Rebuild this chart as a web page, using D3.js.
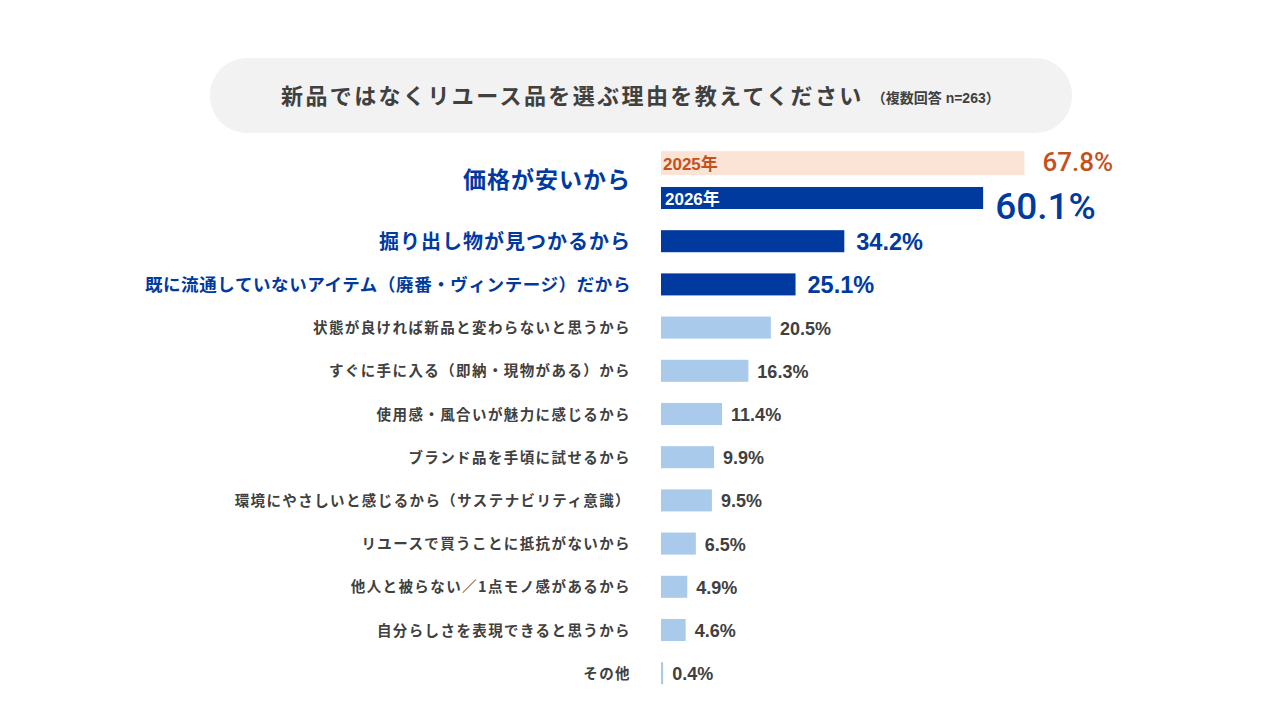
<!DOCTYPE html>
<html><head><meta charset="utf-8">
<script src="https://cdn.jsdelivr.net/npm/d3@7"></script>
<style>
html,body{margin:0;padding:0;background:#fff;}
svg{display:block;font-family:"Noto Sans CJK JP","Noto Sans",sans-serif;}
.num{font-family:"Liberation Sans","Noto Sans CJK JP",sans-serif;}
.big{font-family:Roboto,"Liberation Sans",sans-serif;}
</style></head>
<body>
<script>
const titleText = "新品ではなくリユース品を選ぶ理由を教えてください";
const subtitleText = "（複数回答 n=263）";
const categories = [
  "価格が安いから",
  "掘り出し物が見つかるから",
  "既に流通していないアイテム（廃番・ヴィンテージ）だから",
  "状態が良ければ新品と変わらないと思うから",
  "すぐに手に入る（即納・現物がある）から",
  "使用感・風合いが魅力に感じるから",
  "ブランド品を手頃に試せるから",
  "環境にやさしいと感じるから（サステナビリティ意識）",
  "リユースで買うことに抵抗がないから",
  "他人と被らない／1点モノ感があるから",
  "自分らしさを表現できると思うから",
  "その他"
];
const values2026 = [60.1, 34.2, 25.1, 20.5, 16.3, 11.4, 9.9, 9.5, 6.5, 4.9, 4.6, 0.4];
const values2025 = [67.8];
const seriesNames = ["2025年", "2026年"];

const W = 1280, H = 720;
const svg = d3.select("body").append("svg").attr("width", W).attr("height", H);

// title box
svg.append("rect").attr("x", 210).attr("y", 58).attr("width", 862).attr("height", 75)
  .attr("rx", 37).attr("ry", 37).attr("fill", "#f2f2f2");
const t = svg.append("text").attr("x", 281).attr("y", 104)
  .attr("font-size", 22).attr("font-weight", 700).attr("fill", "#404040")
  .attr("letter-spacing", 2.4)
  .text(titleText);
const tEnd = 281 + t.node().getComputedTextLength();
svg.append("text").attr("class", "num").attr("x", Math.max(tEnd + 8, 866)).attr("y", 103)
  .attr("font-size", 14).attr("font-weight", 700).attr("fill", "#404040")
  .text(subtitleText);

const x = d3.scaleLinear().domain([0, 100]).range([661, 661 + 536]);
const y = d3.scaleBand().domain(categories).range([176.4, 694.8])
  .paddingInner(0.49).paddingOuter(0.245);

const DARK = "#003a9f", LIGHT = "#a9caeb", PEACH = "#fbe3d6", ORANGE = "#c4511b", GRAY = "#404040";

const rows = categories.map((c, i) => ({c, v: values2026[i], i}));

// bars 2026
svg.selectAll("rect.bar").data(rows).join("rect")
  .attr("class", "bar")
  .attr("x", x(0))
  .attr("y", d => y(d.c))
  .attr("width", d => x(d.v) - x(0))
  .attr("height", y.bandwidth())
  .attr("fill", d => d.i < 3 ? DARK : LIGHT);

// 2025 bar (first category)
const b0 = y(categories[0]);
const h25 = y.bandwidth() + 2;
const y25 = b0 - y.step() * 0.83;
svg.append("rect").attr("x", x(0)).attr("y", y25)
  .attr("width", x(values2025[0]) - x(0)).attr("height", h25).attr("fill", PEACH);
svg.append("text").attr("class", "num").attr("x", x(0) + 2).attr("y", y25 + h25 / 2 + 1)
  .attr("dominant-baseline", "central")
  .attr("font-size", 17).attr("font-weight", 700).attr("fill", ORANGE)
  .text(seriesNames[0]);
svg.append("text").attr("class", "big").attr("x", x(values2025[0]) + 18).attr("y", y25 + h25 / 2 - 1)
  .attr("dominant-baseline", "central")
  .attr("font-size", 26).attr("font-weight", 500).attr("fill", ORANGE)
  .text(values2025[0].toFixed(1) + "%");
svg.append("text").attr("class", "num").attr("x", x(0) + 4).attr("y", b0 + y.bandwidth() / 2 + 1)
  .attr("dominant-baseline", "central")
  .attr("font-size", 17).attr("font-weight", 700).attr("fill", "#fff")
  .text(seriesNames[1]);

// value labels
const valSize = i => i === 0 ? 37 : (i < 3 ? 23.5 : 18);
svg.selectAll("text.val").data(rows).join("text")
  .attr("class", d => d.i === 0 ? "val big" : "val num")
  .attr("x", d => x(d.v) + (d.i === 0 ? 12 : (d.i < 3 ? 12 : 9)))
  .attr("y", d => y(d.c) + y.bandwidth() / 2 + (d.i === 0 ? 8 : 1))
  .attr("dominant-baseline", "central")
  .attr("font-size", d => valSize(d.i))
  .attr("font-weight", d => d.i === 0 ? 500 : 700)
  .attr("fill", d => d.i < 3 ? DARK : GRAY)
  .text(d => d.v.toFixed(1) + "%");

// category labels
const labSize = i => i === 0 ? 23 : (i === 1 ? 20 : (i === 2 ? 17.5 : 14.5));
svg.selectAll("text.lab").data(rows).join("text")
  .attr("class", "lab")
  .attr("x", 631)
  .attr("y", d => d.i === 0 ? y25 + (b0 + y.bandwidth() - y25) / 2 - 2 : y(d.c) + y.bandwidth() / 2 - 1)
  .attr("text-anchor", "end")
  .attr("dominant-baseline", "central")
  .attr("font-size", d => labSize(d.i))
  .attr("font-weight", 700)
  .attr("letter-spacing", d => d.i < 2 ? 1 : (d.i === 2 ? 0.6 : 1.4))
  .attr("fill", d => d.i < 3 ? DARK : GRAY)
  .text(d => d.c);
</script>
</body></html>
